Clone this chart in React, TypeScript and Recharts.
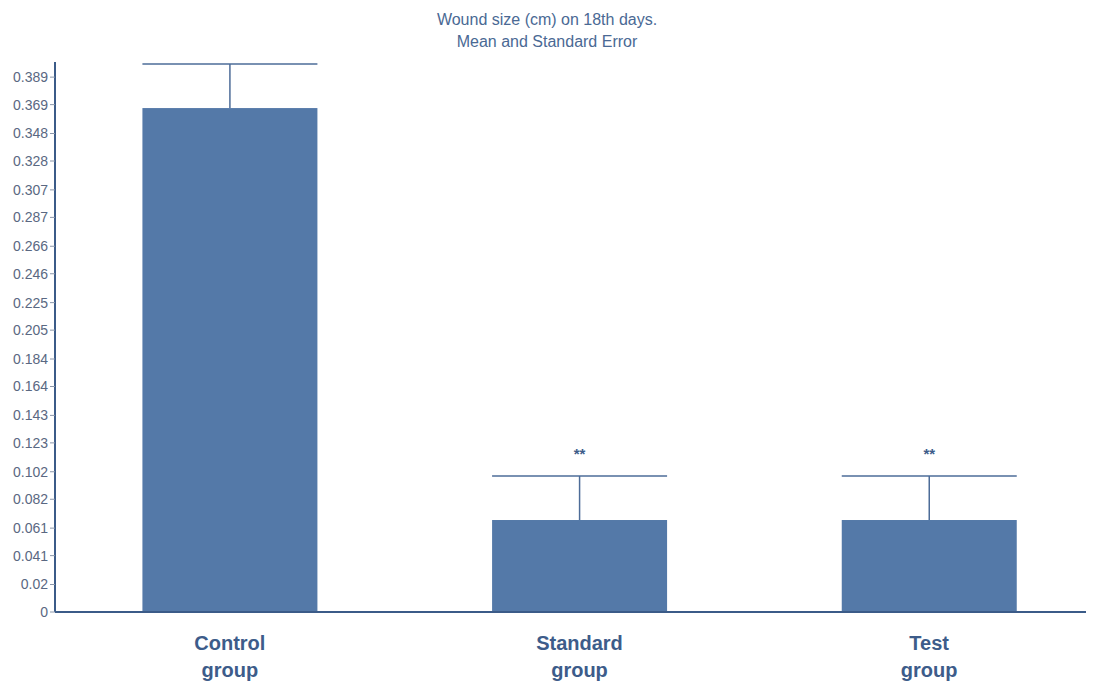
import { BarChart, Bar, XAxis, YAxis } from 'recharts'

// ─── Data ─────────────────────────────────────────────────────────────────────

const groups = ['Control group', 'Standard group', 'Test group']
const means = [0.3665, 0.0669, 0.0669]
const stdErrors = [0.032, 0.032, 0.032]
const significance = ['', '**', '**']

const yTickLabels = [
  '0', '0.02', '0.041', '0.061', '0.082', '0.102', '0.123', '0.143', '0.164', '0.184',
  '0.205', '0.225', '0.246', '0.266', '0.287', '0.307', '0.328', '0.348', '0.369', '0.389',
]
const yTicks = yTickLabels.map(Number)

const chartData = groups.map((name, i) => ({
  name,
  mean: means[i],
  se: stdErrors[i],
  sig: significance[i],
}))

// ─── Styles ───────────────────────────────────────────────────────────────────

const BAR_FILL = '#5479a8'
const AXIS = '#3b5b88'
const ERR = '#4d6c98'
const TEXT = '#3d5c8a'
const FONT = "'Liberation Sans', Arial, sans-serif"

// Bar with its upper standard-error whisker and significance stars
function BarWithError(props: any) {
  const { x, y, width, height, value, payload } = props
  const perUnit = value ? height / value : 0
  const errTop = y - payload.se * perUnit
  const cx = x + width / 2
  return (
    <g>
      <rect x={x} y={y} width={width} height={height} fill={BAR_FILL} />
      <line x1={cx} y1={y} x2={cx} y2={errTop} stroke={ERR} strokeWidth={1.5} />
      <line x1={x} y1={errTop} x2={x + width} y2={errTop} stroke={ERR} strokeWidth={1.5} />
      {payload.sig && (
        <text x={cx} y={errTop - 17} textAnchor="middle" fontSize={15} fontWeight="bold" fill={TEXT} fontFamily={FONT}>
          {payload.sig}
        </text>
      )}
    </g>
  )
}

function GroupTick({ x, y, payload }: any) {
  const [l1, l2] = String(payload.value).split(' ')
  return (
    <text x={x} textAnchor="middle" fontSize={20} fontWeight="bold" fill={TEXT} fontFamily={FONT}>
      <tspan x={x} y={y + 30}>{l1}</tspan>
      <tspan x={x} y={y + 57}>{l2}</tspan>
    </text>
  )
}

export default function App() {
  return (
    <div style={{ position: 'relative', margin: '-8px 0 0 -8px', width: 1112, height: 682, overflow: 'hidden', background: '#fff' }}>
      <div style={{
        position: 'absolute', left: 0, top: 9, width: 1094, textAlign: 'center',
        fontFamily: FONT, fontSize: 16, lineHeight: '22px', color: '#4a6994',
      }}>
        Wound size (cm) on 18th days.<br />Mean and Standard Error
      </div>
      <BarChart
        width={1112}
        height={682}
        data={chartData}
        margin={{ top: 62, right: 8, bottom: 0, left: 0 }}
        barCategoryGap="25%"
      >
        <XAxis
          dataKey="name"
          height={70}
          tick={<GroupTick />}
          tickLine={false}
          axisLine={{ stroke: AXIS, strokeWidth: 2 }}
          interval={0}
        />
        <YAxis
          domain={[0, 0.4]}
          ticks={yTicks}
          tickFormatter={(v: number) => yTickLabels[yTicks.indexOf(v)] ?? String(v)}
          width={55}
          interval={0}
          tick={{ fontSize: 14, fill: '#5a6882', fontFamily: FONT }}
          tickSize={5}
          tickMargin={2}
          tickLine={{ stroke: '#8a96aa' }}
          axisLine={{ stroke: AXIS, strokeWidth: 2 }}
        />
        <Bar dataKey="mean" shape={<BarWithError />} isAnimationActive={false} />
      </BarChart>
    </div>
  )
}
